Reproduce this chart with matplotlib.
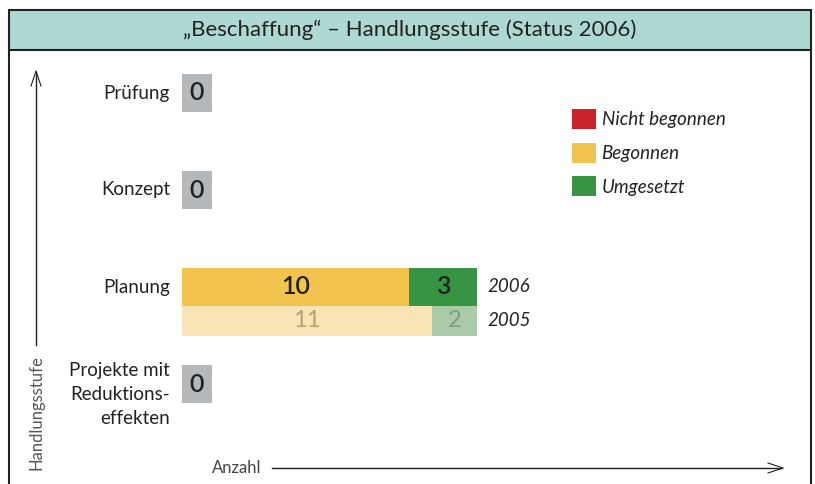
import matplotlib.pyplot as plt
from matplotlib.patches import Rectangle, Patch

plt.rcParams['font.family'] = ['Lato', 'DejaVu Sans']

# data
stages = ["Projekte mit\nReduktions-\neffekten", "Planung", "Konzept", "Prüfung"]
begonnen_2006 = [0, 10, 0, 0]
umgesetzt_2006 = [0, 3, 0, 0]
begonnen_2005 = [0, 11, 0, 0]
umgesetzt_2005 = [0, 2, 0, 0]
years = ["2006", "2005"]
legend_labels = ["Nicht begonnen", "Begonnen", "Umgesetzt"]
title = "\u201eBeschaffung\u201c \u2013 Handlungsstufe (Status 2006)"

RED = "#cc2229"
YELLOW = "#f2c44e"
GREEN = "#379443"
YELLOW_L = "#f8e4b4"
GREEN_L = "#a9cba8"
GRAY = "#b4b8bb"
TEAL = "#aed8d2"
DARK = "#222222"

W, H = 815, 484
fig = plt.figure(figsize=(W / 100, H / 100), dpi=100)

def fx(px):
    return px / W

def fy(py):
    return 1 - py / H

# frame + title band
fig.patches.append(Rectangle((fx(9), fy(50)), fx(811) - fx(9), fy(10) - fy(50),
                             transform=fig.transFigure, facecolor=TEAL,
                             edgecolor=DARK, linewidth=1.5, zorder=0))
fig.add_artist(plt.Line2D([fx(9), fx(9)], [fy(50), 0], color=DARK, lw=1.5,
                          transform=fig.transFigure))
fig.add_artist(plt.Line2D([fx(811), fx(811)], [fy(50), 0], color=DARK, lw=1.5,
                          transform=fig.transFigure))
fig.text(fx(410), fy(30), title, ha="center", va="center", fontsize=16, color=DARK)

# main axes: x=0 at px 182, 22.7 px per unit; stage 0 at px 384, 97 px per stage
px_unit = 22.7
x_right = (W - 182) / px_unit
y_top = (384 - 50) / 97
y_bot = -(H - 384) / 97
ax = fig.add_axes([fx(182), 0, 1 - fx(182), fy(50)])
ax.set_xlim(0, x_right)
ax.set_ylim(y_bot, y_top)
ax.axis("off")

pos = list(range(len(stages)))
h06, h05 = 0.39, 0.31
off05 = -0.35
box_w = 1.3
num = dict(fontweight="semibold")

for i, name in enumerate(stages):
    total06 = begonnen_2006[i] + umgesetzt_2006[i]
    total05 = begonnen_2005[i] + umgesetzt_2005[i]
    multi = "\n" in name
    ax.text(-0.53, pos[i] + (0.23 if multi else 0), name,
            ha="right", va="top" if multi else "center",
            fontsize=13.5, color=DARK, linespacing=1.5)
    if total06 == 0:
        ax.barh(pos[i], box_w, height=h06, left=0, color=GRAY)
        ax.text(box_w / 2, pos[i], "0", ha="center", va="center",
                fontsize=18, color=DARK, **num)
        continue
    ax.barh(pos[i], begonnen_2006[i], height=h06, left=0, color=YELLOW)
    ax.barh(pos[i], umgesetzt_2006[i], height=h06, left=begonnen_2006[i], color=GREEN)
    ax.barh(pos[i] + off05, begonnen_2005[i], height=h05, left=0, color=YELLOW_L)
    ax.barh(pos[i] + off05, umgesetzt_2005[i], height=h05, left=begonnen_2005[i], color=GREEN_L)
    ax.text(begonnen_2006[i] / 2, pos[i], str(begonnen_2006[i]), ha="center", va="center",
            fontsize=18, color=DARK, **num)
    ax.text(begonnen_2006[i] + umgesetzt_2006[i] / 2, pos[i], str(umgesetzt_2006[i]),
            ha="center", va="center", fontsize=18, color=DARK, **num)
    ax.text(begonnen_2005[i] / 2, pos[i] + off05, str(begonnen_2005[i]), ha="center",
            va="center", fontsize=17, color="#b0a27a")
    ax.text(begonnen_2005[i] + umgesetzt_2005[i] / 2, pos[i] + off05, str(umgesetzt_2005[i]),
            ha="center", va="center", fontsize=17, color="#7f9c84")
    ax.text(max(total06, total05) + 0.45, pos[i], years[0], ha="left", va="center",
            fontsize=13.5, style="italic", color=DARK)
    ax.text(max(total06, total05) + 0.45, pos[i] + off05, years[1], ha="left", va="center",
            fontsize=13.5, style="italic", color=DARK)

# legend
handles = [Patch(facecolor=c, edgecolor="none") for c in (RED, YELLOW, GREEN)]
fig.legend(handles, legend_labels, loc="upper left", bbox_to_anchor=(fx(555), fy(92)),
           frameon=False, handlelength=1.28, handleheight=1.28, handletextpad=0.3,
           labelspacing=0.72, prop={"size": 13.5, "style": "italic"}, labelcolor=DARK)

# axis arrows
fig.add_artist(plt.Line2D([fx(36), fx(36)], [fy(345), fy(72)], color=DARK, lw=1.0,
                          transform=fig.transFigure))
fig.add_artist(plt.Line2D([fx(31), fx(36), fx(41)], [fy(86), fy(71), fy(86)], color=DARK,
                          lw=0.8, transform=fig.transFigure))
fig.text(fx(36), fy(413), "Handlungsstufe", rotation=90, ha="center", va="center",
         fontsize=12, color="#555555")
fig.text(fx(212), fy(468), "Anzahl", ha="left", va="center", fontsize=12,
         color="#444444")
fig.add_artist(plt.Line2D([fx(272), fx(782)], [fy(468), fy(468)], color=DARK, lw=1.0,
                          transform=fig.transFigure))
fig.add_artist(plt.Line2D([fx(768), fx(783), fx(768)], [fy(463), fy(468), fy(473)],
                          color=DARK, lw=0.8, transform=fig.transFigure))

fig.savefig("out.png", dpi=100)
